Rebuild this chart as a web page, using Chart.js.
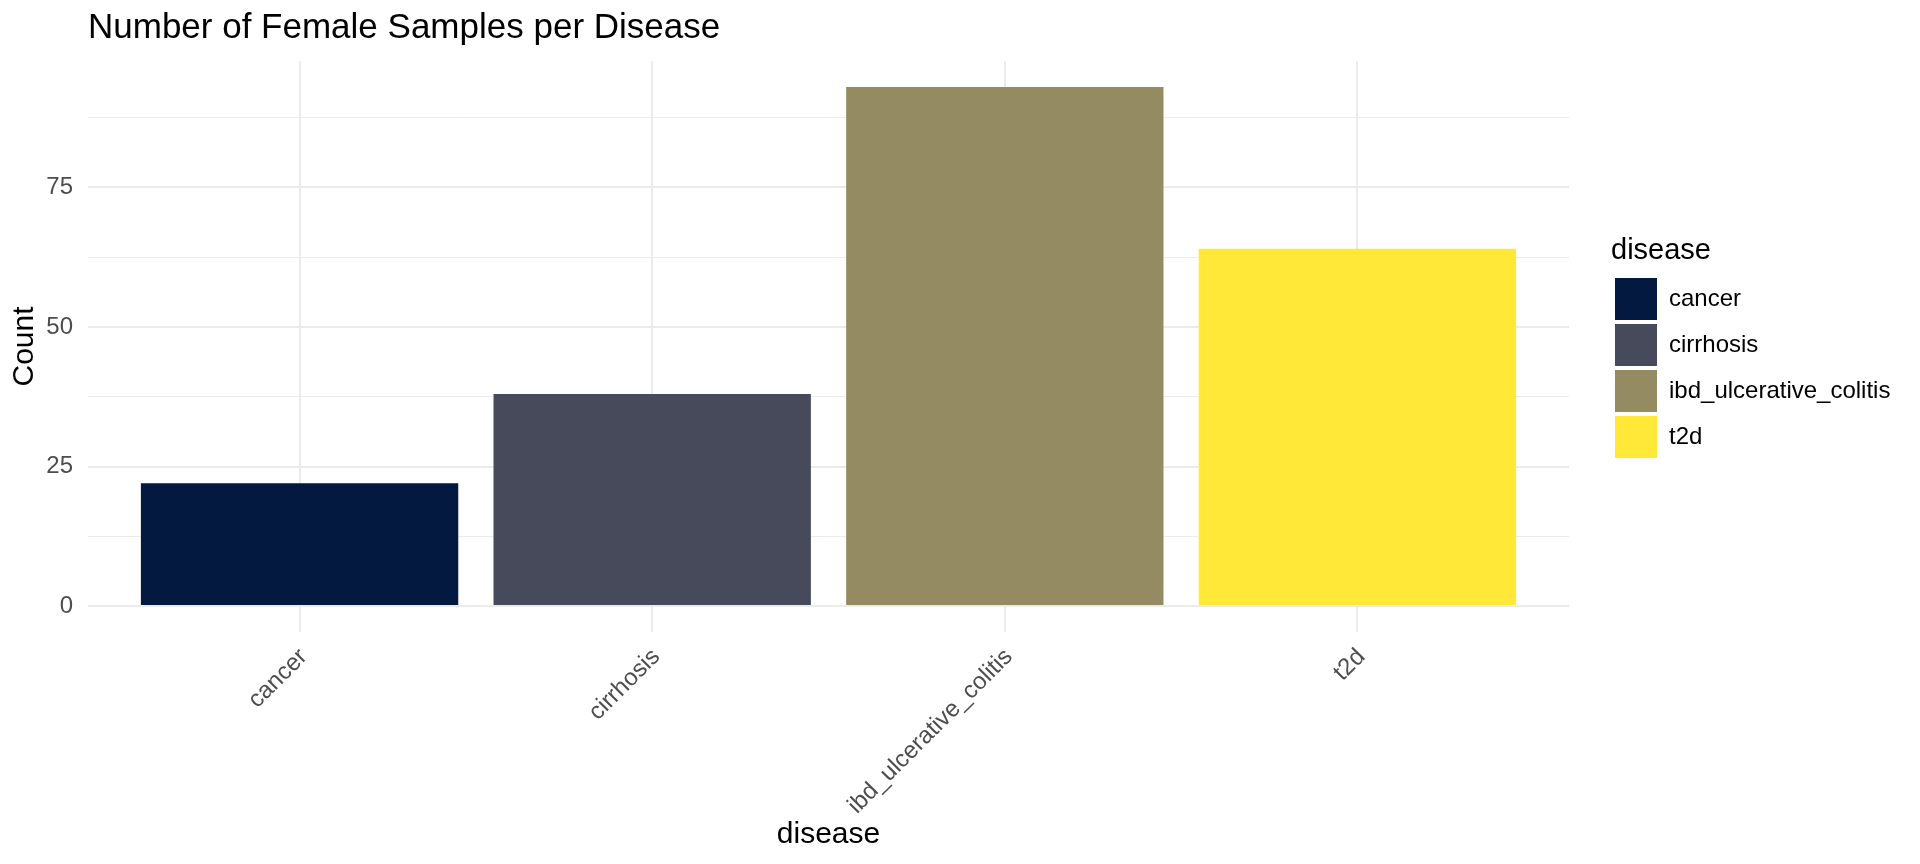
<!DOCTYPE html>
<html><head><meta charset="utf-8">
<script src="https://cdn.jsdelivr.net/npm/chart.js@4"></script>
<style>html,body{margin:0;padding:0;background:#fff}</style>
</head><body>
<canvas id="c" width="1920" height="864" style="display:block;width:1920px;height:864px"></canvas>
<script>
// ---- data ----
const categories = ['cancer', 'cirrhosis', 'ibd_ulcerative_colitis', 't2d'];
const counts = [22, 38, 93, 64];
const barColors = ['#04193F', '#464A5A', '#958B62', '#FFE838'];
const yTickValues = [0, 25, 50, 75];
const yTickLabels = ['0', '25', '50', '75'];
const chartTitle = 'Number of Female Samples per Disease';
const xTitle = 'disease';
const yTitle = 'Count';
const legendTitle = 'disease';

// ---- build ----
const FONT = "'Liberation Sans', Arial, Helvetica, sans-serif";
Chart.defaults.font.family = FONT;
const GRID = '#EBEBEB';
const yMaxData = Math.max(...counts);
const yPad = yMaxData * 0.05;

const barData = counts.map((v, i) => ({ x: i, y: v }));

new Chart(document.getElementById('c'), {
  type: 'bar',
  data: {
    datasets: [{
      data: barData,
      backgroundColor: barColors,
      borderWidth: 0,
      barPercentage: 0.9,
      categoryPercentage: 1.0
    }]
  },
  options: {
    responsive: false,
    devicePixelRatio: 1,
    animation: false,
    events: [],
    layout: { padding: { left: 0, right: 29, top: 0, bottom: 11 } },
    plugins: {
      tooltip: { enabled: false },
      title: {
        display: true,
        text: chartTitle,
        align: 'start',
        fullSize: false,
        color: '#000',
        font: { size: 35, weight: 'normal', family: FONT },
        padding: { top: 7, bottom: 12 }
      },
      legend: {
        display: true,
        position: 'right',
        align: 'center',
        fullSize: false,
        maxWidth: 280,
        title: {
          display: true,
          text: legendTitle,
          position: 'start',
          color: '#000',
          font: { size: 29, family: FONT },
          padding: { top: 5, bottom: 3 }
        },
        labels: {
          boxWidth: 42,
          boxHeight: 42,
          padding: 4,
          color: '#000',
          font: { size: 24, family: FONT },
          generateLabels: () => categories.map((c, i) => ({
            text: c,
            fillStyle: barColors[i],
            strokeStyle: barColors[i],
            lineWidth: 0,
            hidden: false,
            index: i
          }))
        }
      }
    },
    scales: {
      x: {
        type: 'linear',
        position: 'bottom',
        min: -0.6,
        max: categories.length - 1 + 0.6,
        offset: false,
        border: { display: false },
        grid: { offset: false, color: GRID, lineWidth: 2, drawTicks: false },
        ticks: {
          stepSize: 1,
          includeBounds: false,
          autoSkip: false,
          minRotation: 45,
          maxRotation: 45,
          padding: 11,
          labelOffset: 4,
          color: '#4D4D4D',
          font: { size: 24, family: FONT },
          callback: (v) => (Number.isInteger(v) && categories[v] !== undefined) ? categories[v] : ''
        },
        title: {
          display: true,
          text: xTitle,
          color: '#000',
          font: { size: 30, family: FONT },
          padding: { top: 0, bottom: 0 }
        },
        afterFit: (s) => { s.height = 221; }
      },
      y: {
        type: 'linear',
        position: 'left',
        min: -yPad,
        max: yMaxData + yPad,
        border: { display: false },
        grid: {
          color: GRID,
          drawTicks: false,
          lineWidth: (ctx) => (ctx.tick && yTickValues.includes(ctx.tick.value)) ? 2 : 1
        },
        ticks: {
          stepSize: 12.5,
          includeBounds: false,
          padding: 15,
          color: '#4D4D4D',
          font: { size: 24, family: FONT },
          callback: (v) => { const k = yTickValues.indexOf(v); return k >= 0 ? yTickLabels[k] : ''; }
        },
        title: {
          display: true,
          text: yTitle,
          color: '#000',
          font: { size: 30, family: FONT },
          padding: { top: 7, bottom: 0 }
        },
        afterFit: (s) => { s.width = 88; }
      },
      gap: {
        type: 'linear',
        position: 'right',
        display: true,
        border: { display: false },
        grid: { display: false, drawTicks: false },
        ticks: { display: false },
        afterFit: (s) => { s.width = 42; }
      }
    }
  }
});
</script>
</body></html>
